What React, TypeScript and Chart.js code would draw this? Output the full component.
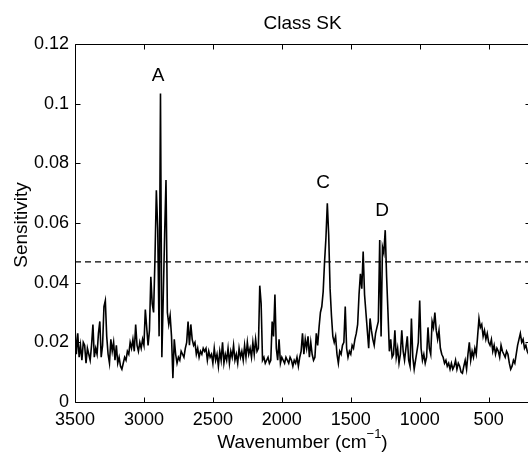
import React, { useEffect, useRef } from "react";
import { Chart, registerables } from "chart.js";

Chart.register(...registerables);

// ---------- text ----------
const TITLE = "Class SK";
const X_LABEL = "Wavenumber (cm";
const X_LABEL_SUP = "\u22121";
const X_LABEL_END = ")";
const Y_LABEL = "Sensitivity";

// ---------- axes ----------
const X_MIN = 200;
const X_MAX = 3500;
const Y_MIN = 0;
const Y_MAX = 0.12;
const X_TICKS = [3500, 3000, 2500, 2000, 1500, 1000, 500];
const Y_TICKS = [0, 0.02, 0.04, 0.06, 0.08, 0.1, 0.12];

// ---------- data ----------
const WAVENUMBER_START = 3500; // cm^-1, first sample
const WAVENUMBER_STEP = 10; // cm^-1 between samples (descending)
const THRESHOLD = 0.047;

const PEAK_LABELS = ["A", "C", "D"];
const PEAK_WAVENUMBERS = [2898, 1701, 1273];
const PEAK_LABEL_HEIGHTS = [0.1096, 0.0737, 0.0644];

// sensitivity, one row per 100 cm^-1 (3500 -> 210), last value at 200
const sensitivity = [
  0.025, 0.016, 0.023, 0.015, 0.019, 0.014, 0.020, 0.019, 0.013, 0.018, // 3500
  0.016, 0.014, 0.019, 0.026, 0.015, 0.018, 0.016, 0.023, 0.027, 0.015, // 3400
  0.019, 0.032, 0.034, 0.022, 0.016, 0.013, 0.021, 0.017, 0.020, 0.014, // 3300
  0.019, 0.013, 0.015, 0.012, 0.011, 0.013, 0.015, 0.014, 0.017, 0.016, // 3200
  0.020, 0.018, 0.021, 0.017, 0.026, 0.019, 0.017, 0.020, 0.018, 0.021, // 3100
  0.019, 0.031, 0.025, 0.019, 0.024, 0.042, 0.033, 0.030, 0.048, 0.071, // 3000
  0.058, 0.022, 0.1034, 0.015, 0.035, 0.056, 0.0744, 0.030, 0.026, 0.029, // 2900
  0.022, 0.008, 0.021, 0.016, 0.013, 0.015, 0.014, 0.017, 0.016, 0.015, // 2800
  0.018, 0.020, 0.027, 0.019, 0.026, 0.021, 0.019, 0.020, 0.016, 0.018, // 2700
  0.015, 0.017, 0.016, 0.018, 0.017, 0.018, 0.014, 0.017, 0.015, 0.016, // 2600
  0.013, 0.018, 0.014, 0.016, 0.012, 0.017, 0.014, 0.020, 0.013, 0.016, // 2500
  0.014, 0.018, 0.013, 0.017, 0.015, 0.019, 0.014, 0.016, 0.013, 0.018, // 2400
  0.015, 0.017, 0.014, 0.019, 0.015, 0.020, 0.016, 0.018, 0.015, 0.020, // 2300
  0.016, 0.021, 0.017, 0.018, 0.039, 0.033, 0.014, 0.015, 0.013, 0.014, // 2200
  0.015, 0.013, 0.014, 0.027, 0.022, 0.036, 0.018, 0.014, 0.021, 0.013, // 2100
  0.015, 0.014, 0.013, 0.015, 0.014, 0.013, 0.015, 0.014, 0.012, 0.014, // 2000
  0.013, 0.015, 0.012, 0.015, 0.017, 0.023, 0.016, 0.021, 0.018, 0.022, // 1900
  0.015, 0.020, 0.016, 0.014, 0.015, 0.023, 0.019, 0.025, 0.030, 0.032, // 1800
  0.037, 0.047, 0.055, 0.0666, 0.056, 0.038, 0.029, 0.022, 0.020, 0.022, // 1700
  0.016, 0.013, 0.017, 0.016, 0.019, 0.020, 0.032, 0.018, 0.015, 0.017, // 1600
  0.016, 0.019, 0.018, 0.021, 0.023, 0.026, 0.036, 0.043, 0.038, 0.0504, // 1500
  0.036, 0.030, 0.024, 0.018, 0.028, 0.024, 0.021, 0.019, 0.023, 0.025, // 1400
  0.027, 0.0543, 0.022, 0.052, 0.050, 0.0576, 0.042, 0.030, 0.017, 0.021, // 1300
  0.015, 0.016, 0.024, 0.015, 0.018, 0.013, 0.016, 0.024, 0.017, 0.014, // 1200
  0.018, 0.022, 0.014, 0.012, 0.028, 0.015, 0.011, 0.014, 0.017, 0.020, // 1100
  0.034, 0.018, 0.014, 0.016, 0.013, 0.015, 0.025, 0.018, 0.016, 0.027, // 1000
  0.025, 0.030, 0.024, 0.021, 0.024, 0.018, 0.016, 0.015, 0.013, 0.014, // 900
  0.012, 0.013, 0.011, 0.013, 0.011, 0.012, 0.014, 0.011, 0.013, 0.012, // 800
  0.010, 0.0096, 0.012, 0.014, 0.011, 0.016, 0.020, 0.014, 0.017, 0.015, // 700
  0.018, 0.016, 0.022, 0.028, 0.025, 0.026, 0.022, 0.024, 0.021, 0.023, // 600
  0.020, 0.019, 0.021, 0.017, 0.019, 0.016, 0.018, 0.017, 0.015, 0.019, // 500
  0.017, 0.016, 0.015, 0.017, 0.016, 0.013, 0.011, 0.012, 0.014, 0.013, // 400
  0.016, 0.019, 0.021, 0.023, 0.020, 0.021, 0.018, 0.019, 0.017, 0.016, // 300
  0.017, // 200
];

const FONT_FAMILY = "'Liberation Sans', Arial, Helvetica, sans-serif";

const decorations = {
  id: "decorations",
  afterDatasetsDraw(chart: any) {
    const { ctx, chartArea: ca, scales } = chart;
    const xs = scales.x;
    const ys = scales.y;
    ctx.save();
    ctx.strokeStyle = "#000";
    ctx.fillStyle = "#000";
    ctx.lineWidth = 1;
    const L = Math.round(ca.left) + 0.5;
    const R = Math.round(ca.right) + 0.5;
    const T = Math.round(ca.top) + 0.5;
    const B = Math.round(ca.bottom) + 0.5;
    ctx.beginPath();
    ctx.rect(L, T, R - L, B - T);
    ctx.stroke();
    const TL = 5;
    ctx.beginPath();
    X_TICKS.forEach((v) => {
      const px = Math.round(xs.getPixelForValue(v)) + 0.5;
      ctx.moveTo(px, B);
      ctx.lineTo(px, B - TL);
      ctx.moveTo(px, T);
      ctx.lineTo(px, T + TL);
    });
    Y_TICKS.forEach((v) => {
      const py = Math.round(ys.getPixelForValue(v)) + 0.5;
      ctx.moveTo(L, py);
      ctx.lineTo(L + TL, py);
      ctx.moveTo(R, py);
      ctx.lineTo(R - TL, py);
    });
    ctx.stroke();

    const cx = (ca.left + ca.right) / 2;
    const cy = (ca.top + ca.bottom) / 2;

    // title
    ctx.font = `19px ${FONT_FAMILY}`;
    ctx.textAlign = "center";
    ctx.textBaseline = "alphabetic";
    ctx.fillText(TITLE, cx, 29);

    // peak labels
    ctx.textBaseline = "middle";
    PEAK_LABELS.forEach((lab, i) => {
      ctx.fillText(
        lab,
        xs.getPixelForValue(PEAK_WAVENUMBERS[i]),
        ys.getPixelForValue(PEAK_LABEL_HEIGHTS[i]) + 1
      );
    });

    // x label with superscript
    ctx.textBaseline = "alphabetic";
    ctx.textAlign = "left";
    const mainFont = `19px ${FONT_FAMILY}`;
    const supFont = `13px ${FONT_FAMILY}`;
    ctx.font = mainFont;
    const w1 = ctx.measureText(X_LABEL).width;
    const w3 = ctx.measureText(X_LABEL_END).width;
    ctx.font = supFont;
    const w2 = ctx.measureText(X_LABEL_SUP).width;
    const total = w1 + w2 + w3;
    let xStart = cx - total / 2;
    const baseY = 448;
    ctx.font = mainFont;
    ctx.fillText(X_LABEL, xStart, baseY);
    ctx.font = supFont;
    ctx.fillText(X_LABEL_SUP, xStart + w1, baseY - 10);
    ctx.font = mainFont;
    ctx.fillText(X_LABEL_END, xStart + w1 + w2, baseY);

    // y label
    ctx.save();
    ctx.translate(27, cy + 2);
    ctx.rotate(-Math.PI / 2);
    ctx.textAlign = "center";
    ctx.font = `19px ${FONT_FAMILY}`;
    ctx.fillText(Y_LABEL, 0, 0);
    ctx.restore();

    ctx.restore();
  },
};

export default function App() {
  const ref = useRef<HTMLCanvasElement | null>(null);

  useEffect(() => {
    if (!ref.current) return;
    Chart.defaults.font.family = FONT_FAMILY;
    Chart.defaults.color = "#000";

    const spectrum = sensitivity.map((v, i) => ({
      x: WAVENUMBER_START - i * WAVENUMBER_STEP,
      y: v,
    }));
    const threshold = [
      { x: X_MAX, y: THRESHOLD },
      { x: X_MIN, y: THRESHOLD },
    ];

    const chart = new Chart(ref.current, {
      type: "line",
      data: {
        datasets: [
          {
            data: spectrum,
            borderColor: "#000",
            borderWidth: 1.6,
            pointRadius: 0,
            tension: 0,
            fill: false,
          },
          {
            data: threshold,
            borderColor: "#000",
            borderWidth: 1.2,
            borderDash: [6, 4],
            pointRadius: 0,
            fill: false,
          },
        ],
      },
      options: {
        responsive: false,
        animation: false,
        devicePixelRatio: 1,
        layout: { padding: { top: 44, right: 10, left: 0, bottom: 0 } },
        plugins: {
          legend: { display: false },
          tooltip: { enabled: false },
          title: { display: false },
        },
        scales: {
          x: {
            type: "linear",
            reverse: true,
            min: X_MIN,
            max: X_MAX,
            grid: { display: false, drawTicks: false },
            border: { display: false },
            afterBuildTicks: (s: any) => {
              s.ticks = X_TICKS.map((v) => ({ value: v }));
            },
            afterFit: (s: any) => {
              s.height = 50;
            },
            ticks: {
              padding: 7,
              color: "#000",
              autoSkip: false,
              maxRotation: 0,
              font: { size: 18, family: FONT_FAMILY },
              callback: (v: any) => String(v),
            },
          },
          y: {
            type: "linear",
            min: Y_MIN,
            max: Y_MAX,
            grid: { display: false, drawTicks: false },
            border: { display: false },
            afterBuildTicks: (s: any) => {
              s.ticks = Y_TICKS.map((v) => ({ value: v }));
            },
            afterFit: (s: any) => {
              s.width = 75;
            },
            ticks: {
              padding: 6,
              color: "#000",
              autoSkip: false,
              font: { size: 18, family: FONT_FAMILY },
              callback: (v: any) => String(Number(Number(v).toFixed(2))),
            },
          },
        },
      },
      plugins: [decorations],
    });
    return () => chart.destroy();
  }, []);

  return (
    <div
      style={{
        position: "fixed",
        left: 0,
        top: 0,
        width: 528,
        height: 452,
        overflow: "hidden",
        background: "#fff",
      }}
    >
      <canvas
        ref={ref}
        width={540}
        height={452}
        style={{ display: "block", width: 540, height: 452 }}
      />
    </div>
  );
}
